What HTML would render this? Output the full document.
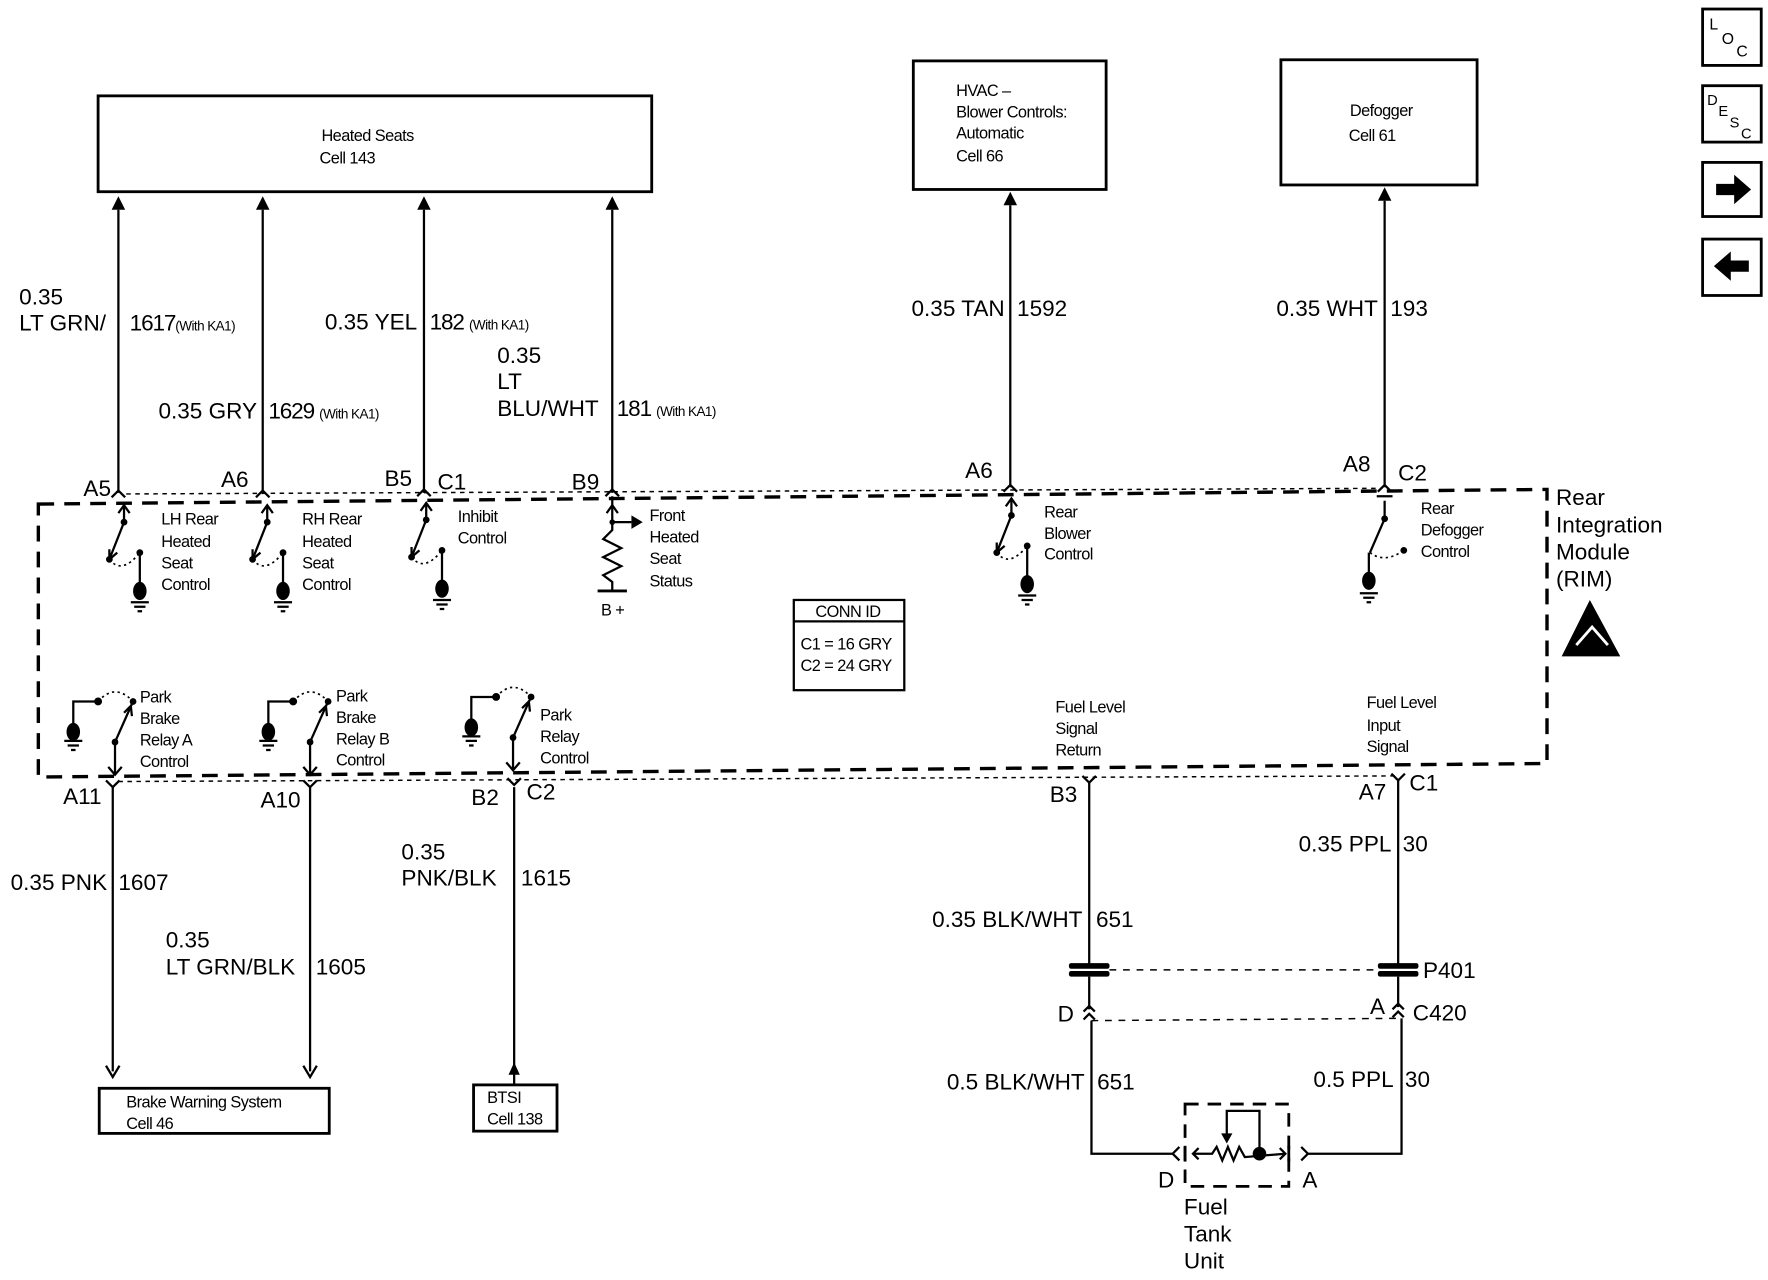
<!DOCTYPE html>
<html><head><meta charset="utf-8"><style>
html,body{margin:0;padding:0;background:#fff;}
svg{display:block;}
text{font-family:"Liberation Sans",sans-serif;fill:#000;}
.b{font-size:20px;}
.s{font-size:14.5px;letter-spacing:-0.5px;}
.k{font-size:12px;letter-spacing:-0.5px;}
</style></head><body>
<svg width="1768" height="1280" viewBox="0 0 1568 1135" preserveAspectRatio="none" xmlns="http://www.w3.org/2000/svg">
<g stroke="#000" fill="none" stroke-width="2">
<rect x="87" y="85" width="491" height="85" stroke-width="2.5"/>
<rect x="810" y="54" width="171" height="114" stroke-width="2.5"/>
<rect x="1136" y="53" width="174" height="111" stroke-width="2.5"/>
<rect x="1510" y="8" width="52" height="50" stroke-width="2.5"/>
<rect x="1510" y="76" width="52" height="50" stroke-width="2.5"/>
<rect x="1510" y="144" width="52" height="48" stroke-width="2.5"/>
<rect x="1510" y="212" width="52" height="50" stroke-width="2.5"/>
<line x1="105" y1="186" x2="105" y2="437"/>
<line x1="233" y1="186" x2="233" y2="437"/>
<line x1="376" y1="186" x2="376" y2="437"/>
<line x1="543" y1="186" x2="543" y2="437"/>
<line x1="896" y1="182" x2="896" y2="432"/>
<line x1="1228" y1="178" x2="1228" y2="432"/>
<path d="M112,438 L1225,433" stroke-width="1.3" stroke-dasharray="4 4"/>
<path d="M105,693 L1238,688" stroke-width="1.3" stroke-dasharray="4 4"/>
<path d="M34,447 L1372,434 L1372,677 L34,689 Z" stroke-width="3" stroke-dasharray="14 9"/>
<path d="M99,441 L105,435 L111,441 M227,441 L233,435 L239,441 M370,440 L376,434 L382,440 M537,440 L543,434 L549,440 M890,436 L896,430 L902,436 M1222,436 L1228,430 L1234,436 M1221,440 L1235,440"/>
<path d="M94,692 L100,698 L106,692 M269,692 L275,698 L281,692 M450,690 L456,696 L462,690 M960,688 L966,694 L972,688 M1234,686 L1240,692 L1246,686"/>
<g id="sw1">
<line x1="110" y1="449" x2="110" y2="463"/>
<path d="M105,455 L110,448 L115,455"/>
<line x1="110" y1="463" x2="97" y2="496"/>
<path d="M97,487 L97,496 L104,490"/>
<path d="M97,496 Q108,510 124,490" stroke-dasharray="2 3" stroke-width="1.5"/>
<line x1="124" y1="490" x2="124" y2="520"/>
<path d="M116,534 L132,534 M119,538 L129,538 M122,542 L126,542"/>
<circle cx="110" cy="463" r="2" fill="#000"/>
<circle cx="97" cy="496" r="2" fill="#000"/>
<circle cx="124" cy="490" r="2" fill="#000"/>
</g>
<use href="#sw1" x="127"/>
<use href="#sw1" x="268" y="-2"/>
<use href="#sw1" x="787" y="-6"/>
<line x1="1228" y1="444" x2="1228" y2="460"/>
<line x1="1228" y1="460" x2="1215" y2="490"/>
<path d="M1215,490 Q1228,500 1245,488" stroke-dasharray="2 3" stroke-width="1.5"/>
<line x1="1214" y1="490" x2="1214" y2="512"/>
<path d="M1206,526 L1222,526 M1209,530 L1219,530 M1212,534 L1216,534"/>
<circle cx="1228" cy="460" r="2" fill="#000"/><circle cx="1245" cy="488" r="2" fill="#000"/>
<path d="M543,440 L543,470 L535,478 L551,486 L535,494 L551,502 L535,510 L543,516 L543,524"/>
<path d="M538,455 L543,448 L548,455"/>
<line x1="530" y1="524" x2="556" y2="524" stroke-width="2.5"/>
<line x1="543" y1="463" x2="560" y2="463"/>
<g id="bs1">
<path d="M65,645 L65,622 L87,622"/>
<path d="M87,622 Q102,605 118,622" stroke-dasharray="2 3" stroke-width="1.5"/>
<line x1="118" y1="622" x2="102" y2="658"/>
<path d="M110,632 L116,626 L117,635"/>
<line x1="102" y1="658" x2="102" y2="686"/>
<path d="M96,680 L102,687 L108,680"/>
<path d="M57,657 L73,657 M60,661 L70,661 M63,665 L67,665"/>
<circle cx="87" cy="622" r="2.5" fill="#000"/><circle cx="118" cy="622" r="2" fill="#000"/><circle cx="102" cy="658" r="2" fill="#000"/>
</g>
<use href="#bs1" x="173"/>
<use href="#bs1" x="353" y="-4"/>
<line x1="100" y1="698" x2="100" y2="950"/>
<path d="M94,945 L100,955 L106,945"/>
<line x1="275" y1="698" x2="275" y2="950"/>
<path d="M269,945 L275,955 L281,945"/>
<line x1="456" y1="698" x2="456" y2="962"/>
<rect x="704" y="532" width="98" height="80" stroke-width="2"/>
<line x1="704" y1="551" x2="802" y2="551"/>
<rect x="88" y="965" width="204" height="40" stroke-width="2.5"/>
<rect x="420" y="962" width="74" height="41" stroke-width="2.5"/>
<line x1="966" y1="694" x2="966" y2="856"/>
<line x1="1240" y1="692" x2="1240" y2="856"/>
<line x1="966" y1="866" x2="966" y2="895"/>
<line x1="1240" y1="866" x2="1240" y2="893"/>
<path d="M984,860 L1222,860" stroke-width="1.3" stroke-dasharray="6 6"/>
<path d="M968,905 L1238,903" stroke-width="1.3" stroke-dasharray="6 6"/>
<path d="M961,897 L966,892 L971,897 M961,904 L966,899 L971,904"/>
<path d="M1235,895 L1240,890 L1245,895 M1235,902 L1240,897 L1245,902"/>
<path d="M968,905 L968,1023 L1040,1023 M1046,1017 L1040,1023 L1046,1029"/>
<path d="M1243,903 L1243,1023 L1160,1023 M1154,1017 L1160,1023 L1154,1029"/>
<rect x="1051" y="979" width="92" height="73" stroke-width="2.5" stroke-dasharray="12 8"/>
<path d="M1058,1023 L1075,1023 L1079,1017 L1084,1029 L1089,1017 L1094,1029 L1099,1017 L1104,1026 L1140,1023"/>
<path d="M1063,1018 L1058,1023 L1063,1028 M1135,1018 L1140,1023 L1135,1028"/>
<path d="M1088,1010 L1088,985 L1117,985 L1117,1023"/>
<line x1="1051" y1="1016" x2="1051" y2="1030" stroke-width="2.5"/>
<line x1="1143" y1="1016" x2="1143" y2="1030" stroke-width="2.5"/>
</g>
<g fill="#000" stroke="none">
<path d="M99,186 L105,174 L111,186Z M227,186 L233,174 L239,186Z M370,186 L376,174 L382,186Z M537,186 L543,174 L549,186Z M890,182 L896,170 L902,182Z M1222,178 L1228,166 L1234,178Z"/>
<path d="M451,953 L456,942 L461,953Z"/>
<ellipse cx="124" cy="524" rx="6" ry="8"/><ellipse cx="251" cy="524" rx="6" ry="8"/><ellipse cx="392" cy="522" rx="6" ry="8"/><ellipse cx="911" cy="518" rx="6" ry="8"/><ellipse cx="1214" cy="515" rx="6" ry="8"/>
<ellipse cx="65" cy="649" rx="6" ry="8"/><ellipse cx="238" cy="649" rx="6" ry="8"/><ellipse cx="418" cy="645" rx="6" ry="8"/>
<circle cx="1117" cy="1023" r="6"/>
<circle cx="543" cy="463" r="2.5"/>
<path d="M560,457 L570,463 L560,469Z"/>
<path d="M1083,1005 L1088,1014 L1093,1005Z"/>
<rect x="948" y="854" width="36" height="5" rx="2"/><rect x="948" y="861" width="36" height="5" rx="2"/>
<rect x="1222" y="854" width="36" height="5" rx="2"/><rect x="1222" y="861" width="36" height="5" rx="2"/>
<path d="M1522,163 L1538,163 L1538,155 L1553,168 L1538,181 L1538,173 L1522,173Z"/>
<path d="M1551,231 L1535,231 L1535,223 L1520,236 L1535,249 L1535,241 L1551,241Z"/>
<path d="M1385,582 L1410,532 L1437,582Z"/>
</g>
<path d="M1398,572 L1412,556 L1426,572" stroke="#fff" stroke-width="2.5" fill="none"/>
<text x="1516" y="26" style="font-size:14px">L</text><text x="1527" y="39" style="font-size:14px">O</text><text x="1540" y="50" style="font-size:14px">C</text>
<text x="1514" y="93" style="font-size:13px">D</text><text x="1524" y="103" style="font-size:13px">E</text><text x="1534" y="113" style="font-size:13px">S</text><text x="1544" y="123" style="font-size:13px">C</text>
<text x="326" y="125" class="s" text-anchor="middle">Heated Seats</text>
<text x="308" y="145" class="s" text-anchor="middle">Cell 143</text>
<text x="848" y="85" class="s">HVAC –</text><text x="848" y="104" class="s">Blower Controls:</text><text x="848" y="123" class="s">Automatic</text><text x="848" y="143" class="s">Cell 66</text>
<text x="1225" y="103" class="s" text-anchor="middle">Defogger</text><text x="1217" y="125" class="s" text-anchor="middle">Cell 61</text>
<text x="17" y="270" class="b">0.35</text><text x="17" y="293" class="b">LT GRN/</text>
<text x="115" y="293" class="b" style="letter-spacing:-1px">1617<tspan class="k">(With KA1)</tspan></text>
<text x="228" y="371" class="b" text-anchor="end">0.35 GRY</text>
<text x="238" y="371" class="b" style="letter-spacing:-1px">1629 <tspan class="k">(With KA1)</tspan></text>
<text x="370" y="292" class="b" text-anchor="end">0.35 YEL</text>
<text x="381" y="292" class="b" style="letter-spacing:-1px">182 <tspan class="k">(With KA1)</tspan></text>
<text x="441" y="322" class="b">0.35</text><text x="441" y="345" class="b">LT</text><text x="441" y="369" class="b">BLU/WHT</text>
<text x="547" y="369" class="b" style="letter-spacing:-1px">181 <tspan class="k">(With KA1)</tspan></text>
<text x="891" y="280" class="b" text-anchor="end">0.35 TAN</text><text x="902" y="280" class="b">1592</text>
<text x="1222" y="280" class="b" text-anchor="end">0.35 WHT</text><text x="1233" y="280" class="b">193</text>
<text x="74" y="440" class="b">A5</text><text x="196" y="432" class="b">A6</text><text x="341" y="431" class="b">B5</text><text x="388" y="434" class="b">C1</text>
<text x="507" y="434" class="b">B9</text><text x="856" y="424" class="b">A6</text><text x="1191" y="418" class="b">A8</text><text x="1240" y="426" class="b">C2</text>
<text x="56" y="713" class="b">A11</text><text x="231" y="716" class="b">A10</text><text x="418" y="714" class="b">B2</text><text x="467" y="709" class="b">C2</text>
<text x="931" y="711" class="b">B3</text><text x="1205" y="709" class="b">A7</text><text x="1250" y="701" class="b">C1</text>
<text x="1380" y="448" class="b">Rear</text><text x="1380" y="472" class="b">Integration</text><text x="1380" y="496" class="b">Module</text><text x="1380" y="520" class="b">(RIM)</text>
<text x="143" y="465" class="s">LH Rear</text><text x="143" y="485" class="s">Heated</text><text x="143" y="504" class="s">Seat</text><text x="143" y="523" class="s">Control</text>
<text x="268" y="465" class="s">RH Rear</text><text x="268" y="485" class="s">Heated</text><text x="268" y="504" class="s">Seat</text><text x="268" y="523" class="s">Control</text>
<text x="406" y="463" class="s">Inhibit</text><text x="406" y="482" class="s">Control</text>
<text x="576" y="462" class="s">Front</text><text x="576" y="481" class="s">Heated</text><text x="576" y="500" class="s">Seat</text><text x="576" y="520" class="s">Status</text>
<text x="533" y="546" class="s">B +</text>
<text x="926" y="459" class="s">Rear</text><text x="926" y="478" class="s">Blower</text><text x="926" y="496" class="s">Control</text>
<text x="1260" y="456" class="s">Rear</text><text x="1260" y="475" class="s">Defogger</text><text x="1260" y="494" class="s">Control</text>
<text x="752" y="547" class="s" text-anchor="middle">CONN ID</text>
<text x="710" y="576" class="s">C1 = 16 GRY</text><text x="710" y="595" class="s">C2 = 24 GRY</text>
<text x="124" y="623" class="s">Park</text><text x="124" y="642" class="s">Brake</text><text x="124" y="661" class="s">Relay A</text><text x="124" y="680" class="s">Control</text>
<text x="298" y="622" class="s">Park</text><text x="298" y="641" class="s">Brake</text><text x="298" y="660" class="s">Relay B</text><text x="298" y="679" class="s">Control</text>
<text x="479" y="639" class="s">Park</text><text x="479" y="658" class="s">Relay</text><text x="479" y="677" class="s">Control</text>
<text x="936" y="632" class="s">Fuel Level</text><text x="936" y="651" class="s">Signal</text><text x="936" y="670" class="s">Return</text>
<text x="1212" y="628" class="s">Fuel Level</text><text x="1212" y="648" class="s">Input</text><text x="1212" y="667" class="s">Signal</text>
<text x="95" y="789" class="b" text-anchor="end">0.35 PNK</text><text x="105" y="789" class="b">1607</text>
<text x="147" y="840" class="b">0.35</text><text x="147" y="864" class="b">LT GRN/BLK</text><text x="280" y="864" class="b">1605</text>
<text x="356" y="762" class="b">0.35</text><text x="356" y="785" class="b">PNK/BLK</text><text x="462" y="785" class="b">1615</text>
<text x="960" y="822" class="b" text-anchor="end">0.35 BLK/WHT</text><text x="972" y="822" class="b">651</text>
<text x="1234" y="755" class="b" text-anchor="end">0.35 PPL</text><text x="1244" y="755" class="b">30</text>
<text x="1262" y="867" class="b">P401</text>
<text x="938" y="906" class="b">D</text><text x="1215" y="899" class="b">A</text><text x="1253" y="905" class="b">C420</text>
<text x="962" y="966" class="b" text-anchor="end">0.5 BLK/WHT</text><text x="973" y="966" class="b">651</text>
<text x="1236" y="964" class="b" text-anchor="end">0.5 PPL</text><text x="1246" y="964" class="b">30</text>
<text x="1027" y="1053" class="b">D</text><text x="1155" y="1053" class="b">A</text>
<text x="1050" y="1077" class="b">Fuel</text><text x="1050" y="1101" class="b">Tank</text><text x="1050" y="1125" class="b">Unit</text>
<text x="112" y="982" class="s">Brake Warning System</text><text x="112" y="1001" class="s">Cell 46</text>
<text x="432" y="978" class="s">BTSI</text><text x="432" y="997" class="s">Cell 138</text>
</svg>
</body></html>
